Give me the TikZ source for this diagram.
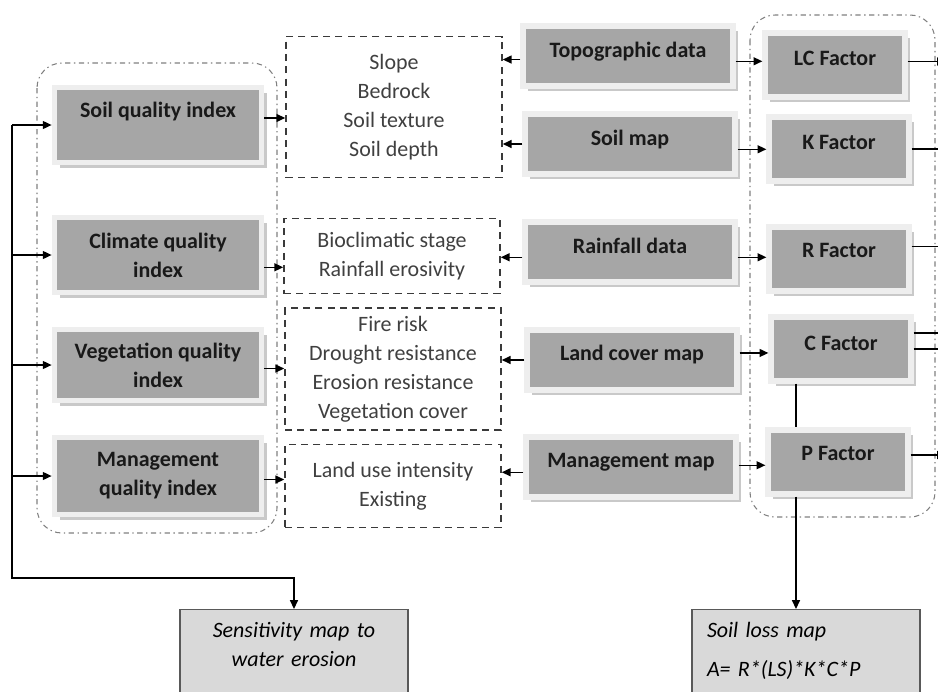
\documentclass[tikz,border=0pt]{standalone}
\usepackage{fontspec}
\setmainfont{Carlito}
\usetikzlibrary{arrows.meta,shadows}

\definecolor{boxfill}{HTML}{A6A6A6}
\definecolor{boxrim}{HTML}{EEEEEE}
\definecolor{boxshade}{HTML}{C9C9C9}
\definecolor{mapfill}{HTML}{D9D9D9}
\definecolor{inkgray}{HTML}{3A3A3A}

\newcommand{\diagfont}{\fontsize{12.5}{16.5}\selectfont}

\tikzset{
  graybox/.style={draw=boxrim, line width=3pt, fill=boxfill, text=black!90, font=\diagfont\bfseries, align=center,
    drop shadow={shadow xshift=3pt, shadow yshift=-3pt, fill=boxshade, opacity=1}},
  qbox/.style={graybox, minimum width=4.15cm, minimum height=1.49cm},
  mbox/.style={graybox, minimum width=4.2cm, minimum height=1.2cm},
  fbox/.style={graybox, minimum width=2.8cm, minimum height=1.28cm},
  listbox/.style={draw=inkgray, line width=0.9pt, dash pattern=on 4pt off 3pt, text=black!75, align=center, minimum width=4.32cm},
  group/.style={draw=gray, line width=0.6pt, dash pattern=on 3pt off 2pt on 0.8pt off 2pt, rounded corners=0.5cm},
  mapbox/.style={draw=black!65, line width=0.8pt, fill=mapfill, anchor=north, font=\diagfont\itshape, inner xsep=0.3cm, inner ysep=7pt, text width=3.96cm, text depth=40pt},
  arr/.style={-{Triangle[length=5pt,width=4.5pt]}, line width=0.8pt},
  wire/.style={line width=0.8pt}
}

\begin{document}
\begin{tikzpicture}[x=0.02cm, y=-0.02cm, font=\diagfont]
  \clip (0,0) rectangle (938,691);

  % dash-dot groups
  \draw[group] (37,63) rectangle (277,533);
  \draw[group] (750,15) rectangle (935,517);

  % quality indices
  \node[qbox, text depth=17pt] (sqi) at (158,125) {Soil quality index};
  \node[qbox] (cqi) at (158,255) {Climate quality\\index};
  \node[qbox, minimum height=1.41cm] (vqi) at (158,365) {Vegetation quality\\index};
  \node[qbox, minimum height=1.55cm] (mqi) at (158,476) {Management\\quality index};

  % criteria lists
  \node[listbox, minimum height=2.82cm] (slope) at (394,107) {Slope\\Bedrock\\Soil texture\\Soil depth};
  \node[listbox, minimum height=1.5cm] (bioclim) at (392,256) {Bioclimatic stage\\Rainfall erosivity};
  \node[listbox, minimum height=2.44cm] (fire) at (393,369) {Fire risk\\Drought resistance\\Erosion resistance\\Vegetation cover};
  \node[listbox, minimum height=1.66cm] (landuse) at (393,486) {Land use intensity\\Existing};

  % input data
  \node[mbox, text depth=7pt] (topo) at (628,56) {Topographic data};
  \node[mbox, text depth=7pt] (soilmap) at (630,144) {Soil map};
  \node[mbox, text depth=7pt] (rain) at (630,252) {Rainfall data};
  \node[mbox, text depth=8pt] (cover) at (632,360) {Land cover map};
  \node[mbox, text depth=8pt] (manage) at (631,467) {Management map};

  % USLE factors
  \node[fbox, text depth=8pt] (lc) at (835,65) {LC Factor};
  \node[fbox, text depth=8pt] (kf) at (839,149) {K Factor};
  \node[fbox, text depth=10pt] (rf) at (839,259) {R Factor};
  \node[fbox, text depth=7pt] (cf) at (841,349) {C Factor};
  \node[fbox, text depth=10pt] (pf) at (838,462) {P Factor};

  % outputs
  \node[mapbox, align=center] (sens) at (294,609) {Sensitivity map to\\water erosion};
  \node[mapbox, align=left] (loss) at (806,609) {Soil loss map\\[6pt]A= R*(LS)*K*C*P};

  % left trunk
  \coordinate (trunk) at (12,125);
  \coordinate (turn) at (12,578);
  \draw[arr] (trunk) -- (turn) -| (sens.north);
  \foreach \b in {sqi,cqi,vqi,mqi}
    \draw[arr] (\b.west -| trunk) -- (\b.west);

  % indices to lists
  \draw[arr] ([yshift=4pt]sqi.east) -- ([yshift=4pt]sqi.east -| slope.west);
  \draw[arr] ([yshift=-7pt]cqi.east) -- ([yshift=-7pt]cqi.east -| bioclim.west);
  \draw[arr] ([yshift=-2pt]vqi.east) -- ([yshift=-2pt]vqi.east -| fire.west);
  \draw[arr] ([yshift=-2pt]mqi.east) -- ([yshift=-2pt]mqi.east -| landuse.west);

  % data to lists
  \draw[arr] ([yshift=-2pt]topo.west) -- ([yshift=-2pt]topo.west -| slope.east);
  \draw[arr] (soilmap.west) -- (soilmap.west -| slope.east);
  \draw[arr] ([yshift=-3pt]rain.west) -- ([yshift=-3pt]rain.west -| bioclim.east);
  \draw[arr] (cover.west) -- (cover.west -| fire.east);
  \draw[arr] ([yshift=-3pt]manage.west) -- ([yshift=-3pt]manage.west -| landuse.east);

  % data to factors
  \draw[arr] ([yshift=-3pt]topo.east) -- ([yshift=-3pt]topo.east -| lc.west);
  \draw[arr] ([yshift=-3pt]soilmap.east) -- ([yshift=-3pt]soilmap.east -| kf.west);
  \draw[arr] ([yshift=-3pt]rain.east) -- ([yshift=-3pt]rain.east -| rf.west);
  \draw[arr] ([yshift=4pt]cover.east) -- ([yshift=4pt]cover.east -| cf.west);
  \draw[arr] ([yshift=1pt]manage.east) -- ([yshift=1pt]manage.east -| pf.west);

  % factors leaving to the right
  \coordinate (edge) at (946,0);
  \draw[arr] ([yshift=2pt]lc.east) -- ([yshift=2pt]lc.east -| edge);
  \draw[wire] (kf.east) -- (kf.east -| edge);
  \draw[wire] ([yshift=7pt]rf.east) -- ([yshift=7pt]rf.east -| edge);
  \draw[wire] ([yshift=9pt]cf.east) -- ([yshift=9pt]cf.east -| edge);
  \draw[wire] (cf.east) -- (cf.east -| edge);
  \draw[arr] ([yshift=4pt]pf.east) -- ([yshift=4pt]pf.east -| edge);

  % C and P down to soil loss
  \coordinate (cp) at (796,0);
  \draw[wire] (cf.south -| cp) -- (pf.north -| cp);
  \draw[arr] (pf.south -| cp) -- (loss.north -| cp);
\end{tikzpicture}
\end{document}
